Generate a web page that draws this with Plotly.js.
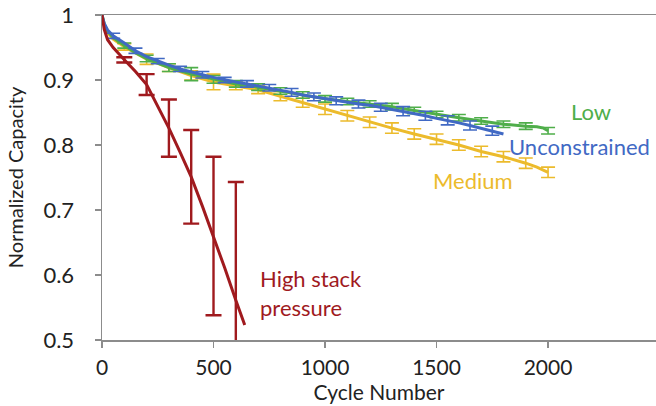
<!DOCTYPE html>
<html>
<head>
<meta charset="utf-8">
<script src="https://cdn.plot.ly/plotly-3.0.1.min.js"></script>
<style>html,body{margin:0;padding:0;background:#fff;}#chart{width:656px;height:406px;}</style>
</head>
<body>
<div id="chart"></div>
<script>
// ---- Data ----
const lowX = [0,10,25,50,100,150,200,300,400,500,600,700,800,900,1000,1100,1200,1300,1400,1500,1600,1700,1800,1900,1950,1980,2000];
const lowY = [1.0,0.986,0.975,0.965,0.953,0.942,0.933,0.919,0.909,0.901,0.894,0.889,0.883,0.877,0.871,0.867,0.863,0.859,0.853,0.847,0.842,0.837,0.832,0.829,0.828,0.826,0.822];

const unconX = [0,10,25,50,100,150,200,250,300,350,400,450,500,550,600,650,700,750,800,850,900,950,1000,1050,1100,1150,1200,1250,1300,1350,1400,1450,1500,1550,1600,1650,1700,1750,1800];
const unconY = [1.0,0.987,0.977,0.968,0.957,0.945,0.936,0.929,0.923,0.917,0.912,0.908,0.904,0.900,0.897,0.894,0.891,0.888,0.885,0.881,0.877,0.874,0.871,0.868,0.866,0.863,0.861,0.858,0.855,0.852,0.849,0.845,0.841,0.838,0.834,0.830,0.826,0.822,0.817];

const medX = [0,10,25,50,100,150,200,300,400,500,600,700,800,900,1000,1100,1200,1300,1400,1500,1600,1700,1800,1900,1950,2000];
const medY = [1.0,0.985,0.973,0.963,0.951,0.941,0.932,0.919,0.907,0.897,0.891,0.885,0.875,0.865,0.855,0.845,0.835,0.826,0.817,0.809,0.800,0.790,0.782,0.772,0.766,0.758];

const highX = [0,10,25,50,100,150,200,250,300,350,400,450,500,550,600,640];
const highY = [1.0,0.978,0.962,0.950,0.931,0.913,0.893,0.860,0.826,0.789,0.751,0.706,0.660,0.611,0.561,0.523];

// error bars: cycle positions and half-widths
const lowErrX = [100,200,300,400,500,600,700,800,900,1000,1100,1200,1300,1400,1500,1600,1700,1800,1900,2000];
const lowErr  = [0.004,0.005,0.006,0.010,0.006,0.005,0.005,0.005,0.005,0.005,0.005,0.005,0.005,0.005,0.005,0.005,0.005,0.005,0.005,0.005];
const unconErrX = [50,150,250,350,450,550,650,750,850,950,1050,1150,1250,1350,1450,1550,1650,1750];
const unconErr  = [0.004,0.004,0.004,0.004,0.005,0.004,0.005,0.005,0.006,0.006,0.006,0.006,0.006,0.007,0.007,0.007,0.007,0.007];
const medErrX = [100,200,300,400,500,600,700,800,900,1000,1100,1200,1300,1400,1500,1600,1700,1800,1900,2000];
const medErr  = [0.005,0.008,0.006,0.007,0.012,0.006,0.006,0.007,0.007,0.008,0.008,0.008,0.008,0.008,0.008,0.008,0.008,0.008,0.008,0.008];
const highErrX = [100,200,300,400,500,600];
const highErr  = [0.004,0.016,0.044,0.072,0.122,0.182];

const xTicks = [0,500,1000,1500,2000];
const yTicks = [0.5,0.6,0.7,0.8,0.9,1];
const yTickText = ['0.5','0.6','0.7','0.8','0.9','1'];

const labels = ['Low','Unconstrained','Medium','High stack<br>pressure'];

// ---- Colours ----
const cLow = '#4fae4a', cUncon = '#4169c4', cMed = '#ecbb2c', cHigh = '#a01a1e';

function lookup(xs, ys, x) { return ys[xs.indexOf(x)]; }

function lineTrace(x, y, color) {
  return {x: x, y: y, type: 'scatter', mode: 'lines', line: {color: color, width: 3}, hoverinfo: 'skip', showlegend: false};
}
function errTrace(ex, err, xs, ys, color, thick, w) {
  return {x: ex, y: ex.map(v => lookup(xs, ys, v)), type: 'scatter', mode: 'markers',
    marker: {size: 0.1, color: 'rgba(0,0,0,0)'},
    error_y: {type: 'data', array: err, visible: true, color: color, thickness: thick, width: w},
    hoverinfo: 'skip', showlegend: false, cliponaxis: true};
}

const data = [
  errTrace(medErrX, medErr, medX, medY, cMed, 1.6, 7),
  lineTrace(medX, medY, cMed),
  errTrace(lowErrX, lowErr, lowX, lowY, cLow, 1.6, 7),
  lineTrace(lowX, lowY, cLow),
  errTrace(unconErrX, unconErr, unconX, unconY, cUncon, 1.6, 7),
  lineTrace(unconX, unconY, cUncon),
  errTrace(highErrX, highErr, highX, highY, cHigh, 2.4, 8),
  lineTrace(highX, highY, cHigh)
];

const fontFam = 'Lato, "Open Sans", sans-serif';

const layout = {
  width: 656, height: 406,
  margin: {l: 102, r: 0, t: 15, b: 66},
  paper_bgcolor: '#fff', plot_bgcolor: '#fff',
  showlegend: false,
  font: {family: fontFam, color: '#222'},
  xaxis: {
    range: [0, 2484], tickvals: xTicks, ticktext: xTicks.map(String),
    showline: true, linecolor: '#8c8c8c', linewidth: 1.5, mirror: true,
    ticks: 'outside', ticklen: 6, tickcolor: '#8c8c8c', tickwidth: 1.5,
    showgrid: false, zeroline: false,
    tickfont: {size: 21, family: fontFam, color: '#222'},
    ticklabelstandoff: 2,
    title: {text: 'Cycle Number', font: {size: 21, family: fontFam, color: '#222'}, standoff: 0}
  },
  yaxis: {
    range: [0.5, 1], tickvals: yTicks, ticktext: yTickText,
    showline: true, linecolor: '#8c8c8c', linewidth: 1.5,
    ticks: 'outside', ticklen: 6, tickcolor: '#8c8c8c', tickwidth: 1.5,
    showgrid: false, zeroline: false,
    tickfont: {size: 22, family: fontFam, color: '#222'},
    ticklabelstandoff: 16,
    title: {text: 'Normalized Capacity', font: {size: 20, family: fontFam, color: '#222'}, standoff: 14}
  },
  annotations: [
    {x: 2095, y: 0.851, xref: 'x', yref: 'y', text: labels[0], showarrow: false, xanchor: 'left', yanchor: 'middle', font: {size: 22, family: fontFam, color: cLow}},
    {x: 1815, y: 0.798, xref: 'x', yref: 'y', text: labels[1], showarrow: false, xanchor: 'left', yanchor: 'middle', font: {size: 22, family: fontFam, color: cUncon}},
    {x: 1476, y: 0.746, xref: 'x', yref: 'y', text: labels[2], showarrow: false, xanchor: 'left', yanchor: 'middle', font: {size: 22, family: fontFam, color: cMed}},
    {x: 700, y: 0.572, xref: 'x', yref: 'y', text: labels[3], showarrow: false, xanchor: 'left', yanchor: 'middle', align: 'left', font: {size: 22, family: fontFam, color: cHigh}}
  ]
};

Plotly.newPlot('chart', data, layout, {staticPlot: true, displayModeBar: false});
</script>
</body>
</html>
